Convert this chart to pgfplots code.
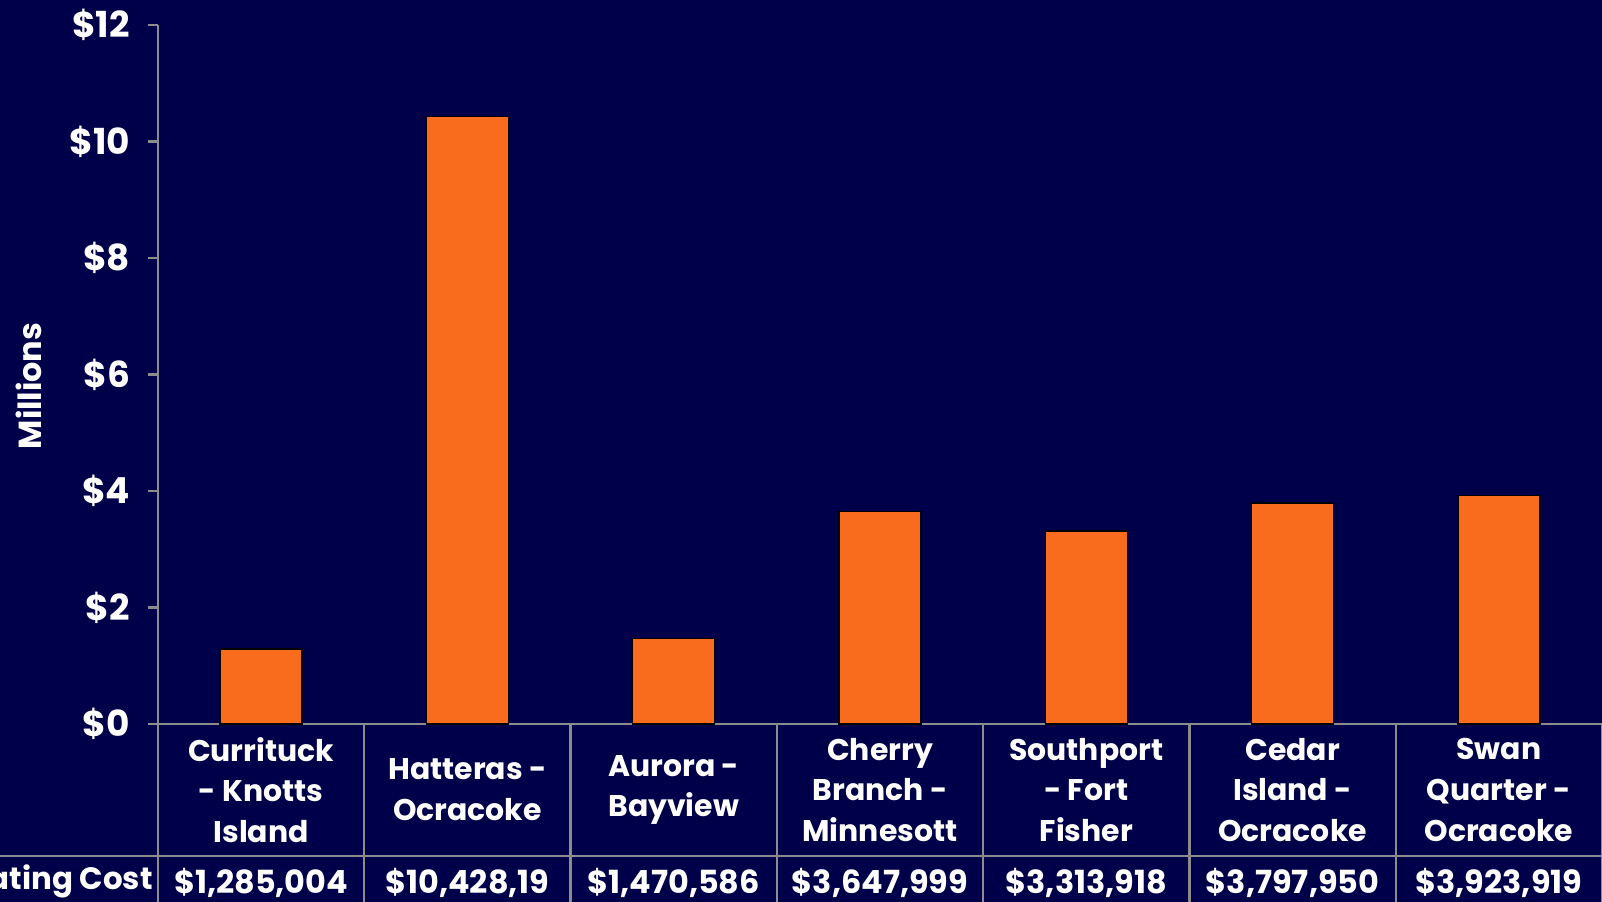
\documentclass[border=0pt]{standalone}
\usepackage{fontspec}
\setmainfont{Poppins}
\usepackage{pgfplots}
\pgfplotsset{compat=1.18}
\definecolor{navy}{RGB}{0,0,74}
\definecolor{barc}{RGB}{249,108,30}
\definecolor{gridc}{RGB}{140,140,140}
\begin{document}
\begin{tikzpicture}
\path[use as bounding box, clip] (0,0) rectangle (801bp,451bp);
\fill[navy] (0,0) rectangle (801bp,451bp);
\begin{axis}[
  at={(79bp,89bp)}, anchor=south west,
  scale only axis, width=722bp, height=349.5bp,
  xmin=-0.5, xmax=6.5, ymin=0, ymax=12,
  axis lines=left, axis line style={-, gridc, line width=1.2bp},
  ybar, bar width=41bp,
  ytick={0,2,...,12},
  yticklabels={\$0,\$2,\$4,\$6,\$8,\$10,\$12},
  tick align=outside, major tick length=5bp,
  ytick style={gridc, line width=1.2bp},
  xtick={0,...,6}, xtick style={draw=none},
  xticklabels={{Currituck\\- Knotts\\Island},{Hatteras -\\Ocracoke},{Aurora -\\Bayview},{Cherry\\Branch -\\Minnesott},{Southport\\- Fort\\Fisher},{Cedar\\Island -\\Ocracoke},{Swan\\Quarter -\\Ocracoke}},
  xticklabel style={align=center, anchor=center, yshift=-28bp, text=white, font=\bfseries\fontsize{15}{20.5}\selectfont},
  yticklabel style={text=white, xshift=-5.5bp, font=\bfseries\fontsize{18}{21}\selectfont},
  extra x ticks={0,...,6},
  extra x tick labels={{\$1,285,004},{\$10,428,19},{\$1,470,586},{\$3,647,999},{\$3,313,918},{\$3,797,950},{\$3,923,919}},
  extra x tick style={xtick style={draw=none}, xticklabel style={yshift=-46.5bp, inner sep=0pt, font=\bfseries\fontsize{16}{19}\selectfont}},
  clip=false,
]
\addplot[fill=barc, draw=black, line width=0.75bp] coordinates {(0,1.285004) (1,10.428190) (2,1.470586) (3,3.647999) (4,3.313918) (5,3.797950) (6,3.923919)};
\end{axis}
\foreach \k in {0,...,7} {
  \draw[gridc, line width=1.2bp] ({79bp+\k*722bp/7},89bp) -- ({79bp+\k*722bp/7},0);
}
\draw[gridc, line width=1.2bp] (0,23bp) -- (801bp,23bp);
\node[anchor=east, inner sep=0pt, text=white, font=\bfseries\fontsize{15.5}{18}\selectfont] at (76.5bp,10.5bp) {Operating Cost};
\node[rotate=90, text=white, font=\bfseries\fontsize{16}{19}\selectfont] at (14.5bp,258bp) {Millions};
\end{tikzpicture}
\end{document}
